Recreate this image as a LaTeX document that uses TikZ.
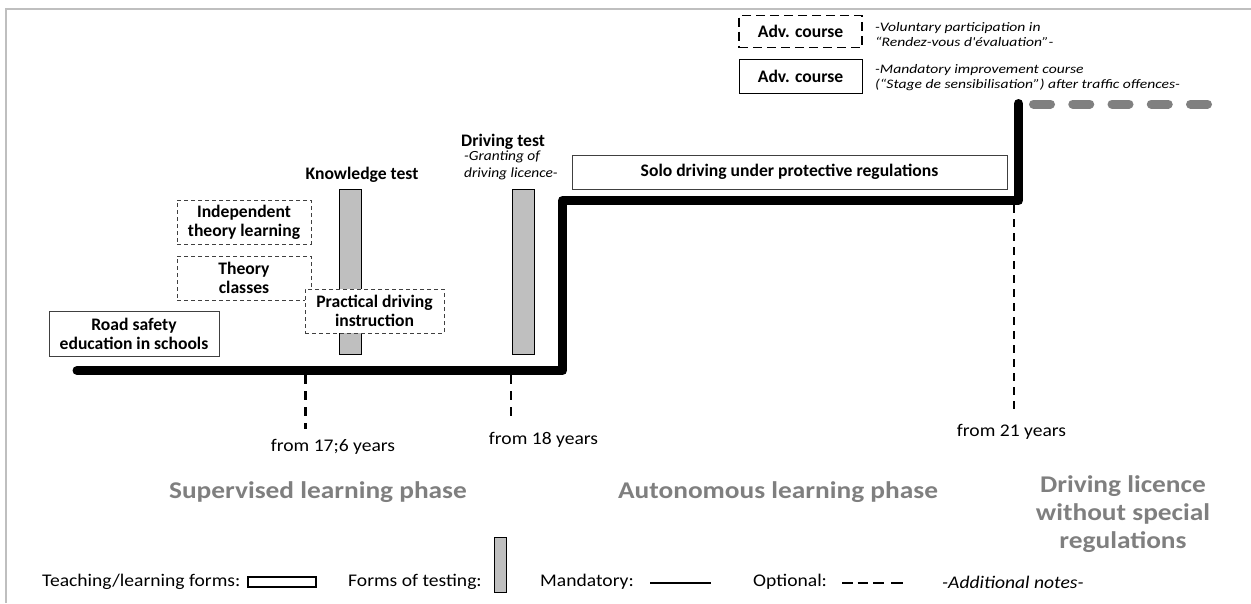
\documentclass[tikz,border=0pt]{standalone}
\usepackage{fontspec}
\setmainfont{Carlito}
% slightly widened cuts of the same family
\newfontfamily\widefam{Carlito}[FakeStretch=1.1]
\newfontfamily\notefam{Carlito}[FakeStretch=1.2]
\newfontfamily\phasefam{Carlito}[FakeStretch=1.14]
\definecolor{framegray}{HTML}{BFBFBF}
\definecolor{bargray}{HTML}{BFBFBF}
\definecolor{phasegray}{HTML}{7F7F7F}
\definecolor{dashgray}{HTML}{808080}
\definecolor{boxline}{HTML}{404040}
\begin{document}
\begin{tikzpicture}[x=1pt,y=-1pt,
  lbl/.style={font=\fontsize{17.6}{19}\selectfont\bfseries, align=center, inner sep=0pt},
  plain/.style={font=\widefam\fontsize{17.8}{20}\selectfont, inner sep=0pt},
  note/.style={font=\notefam\fontsize{13}{15}\selectfont\itshape, align=left, inner sep=0pt},
  phase/.style={font=\phasefam\fontsize{24}{28}\selectfont\bfseries, text=phasegray, align=center, inner sep=0pt},
  optbox/.style={lbl, draw=boxline, line width=0.8pt, dash pattern=on 4pt off 3pt, fill=white},
  solbox/.style={lbl, draw=boxline, line width=0.8pt, fill=white},
  testbar/.style={draw=black, line width=0.9pt, fill=bargray, inner sep=0pt, minimum width=22pt},
  timeline/.style={line width=9pt, line cap=round, line join=round},
  agetick/.style={line width=#1, dash pattern=on 9pt off 7pt},
  agetick/.default=2pt
]
\useasboundingbox (0,0) rectangle (1251,603);

% frame
\draw[framegray, line width=2pt] (6,603) -- (6,9) -- (1251,9);

% test bars (behind the learning boxes)
\node[testbar, minimum height=165pt] (ktbar) at (350,271.5) {};
\node[testbar, minimum height=165pt] (dtbar) at (523,271.5) {};
\node[lbl] (ktlab) at (362,175) {Knowledge test};
\node[lbl, anchor=west] (dtlab) at (461,142) {Driving test};
\node[note, font=\widefam\fontsize{14}{17}\selectfont\itshape, anchor=west] (dtnote) at (464,165.5) {-Granting of\\driving licence-};

% teaching / learning forms
\node[solbox, minimum width=170pt, minimum height=45pt] (school) at (134,333.5) {Road safety\\education in schools};
\node[optbox, minimum width=134pt, minimum height=44pt] (indep) at (244,222) {Independent\\theory learning};
\node[optbox, minimum width=134pt, minimum height=44pt] (theory) at (244,278) {Theory\\classes};
\node[optbox, minimum width=139pt, minimum height=44pt] (pract) at (374.5,311) {Practical driving\\instruction};
\node[solbox, minimum width=435pt, minimum height=34pt] (solo) at (789.5,172) {Solo driving under protective regulations};

% advanced courses
\node[lbl, draw=black, line width=1.2pt, dash pattern=on 9pt off 5pt, minimum width=123pt, minimum height=32pt] (advopt) at (800.5,31.5) {Adv. course};
\node[lbl, draw=black, line width=1pt, minimum width=123pt, minimum height=34pt] (advman) at (800.5,76) {Adv. course};
\node[note, anchor=west] (volnote) at (875,34.5) {-Voluntary participation in\\“Rendez-vous d'évaluation”-};
\node[note, anchor=west] (mannote) at (875,78) {-Mandatory improvement course\\(“Stage de sensibilisation”) after traffic offences-};

% time line
\coordinate (start) at (77,370.5);
\coordinate (step1low) at (562.5,370.5);
\coordinate (step1high) at (562.5,200.5);
\coordinate (step2low) at (1018.5,200.5);
\coordinate (step2high) at (1018.5,103.5);
\coordinate (freeA) at (1033.5,104);
\coordinate (freeB) at (1212,104);
\draw[timeline] (start) -- (step1low) -- (step1high) -- (step2low) -- (step2high);
\draw[timeline, dashgray, dash pattern=on 17pt off 22.25pt] (freeA) -- (freeB);

% age marks
\node[plain] (age176) at (333,447) {from 17;6 years};
\node[plain] (age18) at (543.5,440) {from 18 years};
\node[plain] (age21) at (1011.5,432) {from 21 years};
\coordinate (tick176a) at (305,375);
\coordinate (tick176b) at (305,429);
\coordinate (tick18a) at (511,375);
\coordinate (tick18b) at (511,420);
\coordinate (tick21a) at (1014,205);
\coordinate (tick21b) at (1014,411);
\draw[agetick=3pt] (tick176a) -- (tick176b);
\draw[agetick] (tick18a) -- (tick18b);
\draw[agetick=1.8pt, dash pattern=on 8pt off 6pt] (tick21a) -- (tick21b);

% phases
\node[phase] (ph1) at (318,492) {Supervised learning phase};
\node[phase] (ph2) at (778,492) {Autonomous learning phase};
\node[phase] (ph3) at (1123,514) {Driving licence\\without special\\regulations};

% legend
\node[plain, anchor=west] (legteach) at (42,582) {Teaching/learning forms:};
\node[draw=black, line width=1.2pt, inner sep=0pt, minimum width=68pt, minimum height=10pt] (legbox) at (282,582) {};
\node[plain, anchor=west] (legtest) at (348,582) {Forms of testing:};
\node[testbar, minimum width=12pt, minimum height=55pt] (legbar) at (500,564.5) {};
\node[plain, anchor=west] (legman) at (540,582) {Mandatory:};
\coordinate (manA) at (650,583);
\coordinate (manB) at (711,583);
\draw[line width=1.3pt] (manA) -- (manB);
\node[plain, anchor=west] (legopt) at (753,582) {Optional:};
\coordinate (optA) at (842,583);
\coordinate (optB) at (884,583);
\coordinate (optC) at (891,583);
\coordinate (optD) at (903,583);
\draw[line width=1.2pt, dash pattern=on 10.5pt off 5pt] (optA) -- (optB);
\draw[line width=2.2pt] (optC) -- (optD);
\node[plain, font=\widefam\fontsize{17.8}{20}\selectfont\itshape, anchor=west] (legnote) at (942,582) {-Additional notes-};
\end{tikzpicture}
\end{document}
